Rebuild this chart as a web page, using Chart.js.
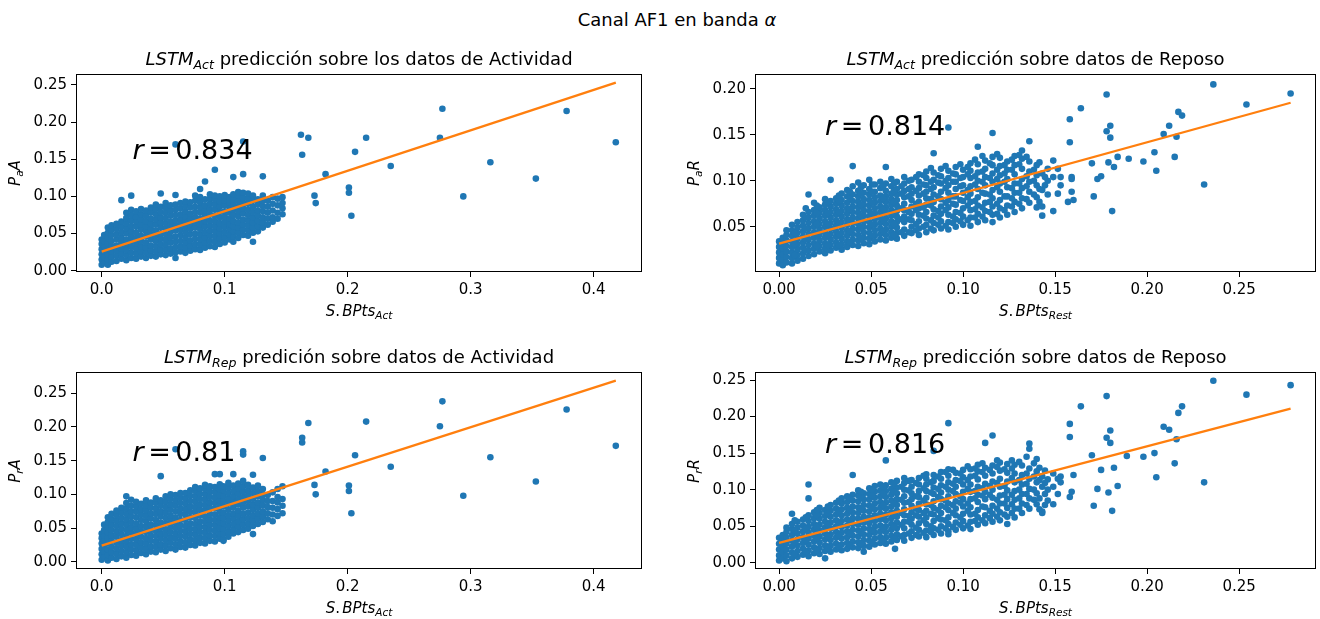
<!DOCTYPE html>
<html lang="es">
<head>
<meta charset="utf-8">
<title>Canal AF1 en banda α</title>
<script src="https://cdn.jsdelivr.net/npm/chart.js@4/dist/chart.umd.min.js"></script>
<style>
  html, body { margin: 0; padding: 0; background: #fff; }
  #fig { position: relative; width: 1320px; height: 619px; overflow: hidden;
         font-family: "DejaVu Sans", sans-serif; color: #000; }
  #fig canvas { position: absolute; }
  .txt { position: absolute; white-space: nowrap; line-height: 1; }
  .txt sub { font-size: 70%; vertical-align: -0.32em; line-height: 0; }
  .title { font-size: 18px; }
  .xlabel, .ylabel { font-size: 15px; }
  .rtext { font-size: 27px; }
  .eq { margin: 0 0.17em; }
  .dot { margin-right: 0.15em; }
</style>
</head>
<body>
<div id="fig">
  <div class="txt title" id="suptitle">Canal AF1 en banda <i>α</i></div>
  <canvas id="c0" width="660" height="330" style="left:0;top:0"></canvas>
  <canvas id="c1" width="660" height="330" style="left:660px;top:0"></canvas>
  <canvas id="c2" width="660" height="289" style="left:0;top:330px"></canvas>
  <canvas id="c3" width="660" height="289" style="left:660px;top:330px"></canvas>
</div>
<script>
/**
 * ==============================
 * DATA
 * ==============================
 */
// Each column: [x, y1, y2, ...] -- points sharing (roughly) the same x
const colsActOnAct = [
  [0.000, 0.008, 0.015, 0.022, 0.029, 0.036, 0.042],
  [0.002, 0.011, 0.018, 0.026, 0.033, 0.040, 0.048],
  [0.005, 0.008, 0.015, 0.022, 0.029, 0.037, 0.044, 0.051, 0.058],
  [0.008, 0.012, 0.019, 0.026, 0.033, 0.040, 0.048, 0.055, 0.061],
  [0.012, 0.013, 0.020, 0.027, 0.034, 0.042, 0.049, 0.056, 0.063],
  [0.016, 0.016, 0.023, 0.030, 0.038, 0.045, 0.052, 0.059, 0.066, 0.095],
  [0.020, 0.014, 0.021, 0.028, 0.035, 0.042, 0.050, 0.057, 0.064, 0.071, 0.078],
  [0.024, 0.017, 0.024, 0.032, 0.039, 0.046, 0.053, 0.060, 0.068, 0.075, 0.082, 0.101],
  [0.028, 0.016, 0.023, 0.030, 0.037, 0.044, 0.051, 0.059, 0.066, 0.073, 0.080],
  [0.032, 0.019, 0.026, 0.033, 0.040, 0.047, 0.055, 0.062, 0.069, 0.076, 0.083],
  [0.036, 0.017, 0.024, 0.031, 0.038, 0.046, 0.053, 0.060, 0.067, 0.074, 0.081],
  [0.040, 0.020, 0.027, 0.034, 0.042, 0.049, 0.056, 0.063, 0.070, 0.078, 0.085],
  [0.044, 0.019, 0.026, 0.033, 0.040, 0.047, 0.054, 0.062, 0.069, 0.076, 0.083, 0.089],
  [0.048, 0.022, 0.029, 0.036, 0.043, 0.050, 0.058, 0.065, 0.072, 0.079, 0.086, 0.104],
  [0.052, 0.021, 0.028, 0.035, 0.042, 0.049, 0.057, 0.064, 0.071, 0.078, 0.085, 0.091],
  [0.056, 0.023, 0.030, 0.038, 0.045, 0.052, 0.059, 0.066, 0.074, 0.081, 0.088],
  [0.060, 0.017, 0.025, 0.032, 0.039, 0.046, 0.054, 0.061, 0.068, 0.075, 0.082, 0.089, 0.102, 0.170],
  [0.064, 0.026, 0.033, 0.040, 0.048, 0.055, 0.062, 0.069, 0.076, 0.084, 0.091],
  [0.068, 0.024, 0.031, 0.038, 0.045, 0.052, 0.059, 0.066, 0.073, 0.080, 0.087, 0.093],
  [0.072, 0.027, 0.034, 0.041, 0.049, 0.056, 0.063, 0.070, 0.077, 0.085, 0.092],
  [0.076, 0.029, 0.036, 0.043, 0.050, 0.058, 0.065, 0.072, 0.079, 0.086, 0.094, 0.101],
  [0.080, 0.028, 0.035, 0.042, 0.049, 0.056, 0.063, 0.070, 0.078, 0.085, 0.092, 0.099, 0.110],
  [0.084, 0.031, 0.038, 0.045, 0.052, 0.060, 0.067, 0.074, 0.081, 0.088, 0.096, 0.120],
  [0.088, 0.033, 0.040, 0.047, 0.054, 0.061, 0.068, 0.076, 0.083, 0.090, 0.097, 0.103],
  [0.092, 0.032, 0.039, 0.046, 0.053, 0.060, 0.067, 0.074, 0.082, 0.089, 0.096, 0.101, 0.136],
  [0.096, 0.036, 0.043, 0.050, 0.057, 0.064, 0.072, 0.079, 0.086, 0.093, 0.100],
  [0.100, 0.038, 0.045, 0.052, 0.059, 0.066, 0.073, 0.080, 0.088, 0.095, 0.102],
  [0.104, 0.042, 0.049, 0.056, 0.063, 0.070, 0.078, 0.085, 0.092, 0.099],
  [0.107, 0.039, 0.046, 0.053, 0.060, 0.067, 0.075, 0.082, 0.089, 0.096, 0.103, 0.126],
  [0.111, 0.044, 0.051, 0.058, 0.065, 0.073, 0.080, 0.087, 0.094, 0.101, 0.106],
  [0.115, 0.048, 0.055, 0.062, 0.069, 0.077, 0.084, 0.091, 0.098, 0.105, 0.130, 0.174],
  [0.119, 0.047, 0.054, 0.061, 0.068, 0.075, 0.082, 0.090, 0.097, 0.104],
  [0.123, 0.039, 0.051, 0.058, 0.065, 0.072, 0.079, 0.086, 0.094, 0.101],
  [0.127, 0.053, 0.060, 0.067, 0.074, 0.081, 0.089, 0.096],
  [0.131, 0.058, 0.065, 0.072, 0.080, 0.087, 0.094, 0.101, 0.127],
  [0.135, 0.062, 0.070, 0.078, 0.086, 0.094],
  [0.139, 0.066, 0.072, 0.081, 0.090, 0.099],
  [0.143, 0.070, 0.078, 0.088, 0.097],
  [0.147, 0.076, 0.084, 0.091, 0.099],
  [0.162, 0.183], [0.163, 0.156], [0.168, 0.179], [0.173, 0.101], [0.174, 0.091],
  [0.182, 0.130], [0.201, 0.112, 0.105], [0.203, 0.074], [0.206, 0.160], [0.215, 0.179],
  [0.235, 0.141], [0.275, 0.179], [0.277, 0.218], [0.294, 0.100], [0.316, 0.146],
  [0.353, 0.124], [0.378, 0.215], [0.418, 0.173],
];

const colsActOnRest = [
  [0.000, 0.010, 0.016, 0.022, 0.028, 0.034],
  [0.002, 0.008, 0.014, 0.020, 0.026, 0.032, 0.038],
  [0.004, 0.011, 0.017, 0.023, 0.029, 0.035, 0.041, 0.046],
  [0.007, 0.010, 0.016, 0.022, 0.028, 0.034, 0.040, 0.046, 0.052],
  [0.010, 0.013, 0.019, 0.025, 0.031, 0.037, 0.043, 0.049, 0.055],
  [0.013, 0.015, 0.021, 0.027, 0.033, 0.039, 0.045, 0.051, 0.057, 0.063],
  [0.016, 0.018, 0.024, 0.030, 0.036, 0.042, 0.048, 0.054, 0.060, 0.066, 0.085],
  [0.019, 0.020, 0.026, 0.032, 0.038, 0.044, 0.050, 0.056, 0.062, 0.068, 0.076],
  [0.022, 0.023, 0.029, 0.035, 0.041, 0.047, 0.053, 0.059, 0.065, 0.071],
  [0.025, 0.021, 0.026, 0.032, 0.038, 0.044, 0.050, 0.056, 0.062, 0.068, 0.074, 0.080],
  [0.028, 0.024, 0.030, 0.036, 0.042, 0.048, 0.054, 0.060, 0.066, 0.072, 0.078, 0.101],
  [0.031, 0.027, 0.033, 0.039, 0.045, 0.051, 0.057, 0.063, 0.069, 0.075, 0.081],
  [0.034, 0.025, 0.031, 0.037, 0.043, 0.049, 0.055, 0.061, 0.067, 0.073, 0.079, 0.086],
  [0.037, 0.028, 0.034, 0.040, 0.046, 0.052, 0.058, 0.064, 0.070, 0.076, 0.083, 0.090],
  [0.040, 0.030, 0.036, 0.042, 0.048, 0.054, 0.060, 0.066, 0.072, 0.078, 0.085, 0.094, 0.116],
  [0.043, 0.029, 0.035, 0.041, 0.047, 0.053, 0.059, 0.065, 0.071, 0.077, 0.083, 0.089, 0.098],
  [0.046, 0.032, 0.038, 0.044, 0.050, 0.056, 0.062, 0.068, 0.074, 0.080, 0.087, 0.095],
  [0.049, 0.031, 0.037, 0.043, 0.049, 0.055, 0.061, 0.067, 0.073, 0.079, 0.085, 0.091, 0.101],
  [0.052, 0.034, 0.040, 0.046, 0.052, 0.058, 0.064, 0.070, 0.076, 0.082, 0.088, 0.096],
  [0.055, 0.036, 0.042, 0.048, 0.054, 0.060, 0.066, 0.072, 0.078, 0.084, 0.092, 0.099],
  [0.058, 0.035, 0.041, 0.047, 0.053, 0.059, 0.065, 0.071, 0.077, 0.083, 0.089, 0.097, 0.115],
  [0.061, 0.038, 0.044, 0.050, 0.056, 0.062, 0.068, 0.074, 0.080, 0.086, 0.094, 0.102],
  [0.064, 0.037, 0.043, 0.049, 0.055, 0.061, 0.067, 0.073, 0.079, 0.085, 0.091, 0.099],
  [0.068, 0.040, 0.047, 0.055, 0.061, 0.068, 0.075, 0.082, 0.089, 0.097, 0.104],
  [0.072, 0.043, 0.050, 0.057, 0.064, 0.072, 0.079, 0.086, 0.093, 0.101],
  [0.076, 0.041, 0.048, 0.056, 0.063, 0.070, 0.077, 0.084, 0.092, 0.099, 0.107],
  [0.080, 0.044, 0.052, 0.059, 0.066, 0.074, 0.081, 0.088, 0.095, 0.103, 0.110],
  [0.084, 0.046, 0.054, 0.062, 0.069, 0.077, 0.085, 0.093, 0.101, 0.109, 0.130],
  [0.088, 0.048, 0.056, 0.064, 0.072, 0.080, 0.088, 0.097, 0.105, 0.113],
  [0.092, 0.047, 0.055, 0.063, 0.071, 0.079, 0.087, 0.095, 0.103, 0.111, 0.158],
  [0.096, 0.050, 0.058, 0.066, 0.074, 0.083, 0.091, 0.099, 0.107, 0.115],
  [0.100, 0.052, 0.061, 0.070, 0.078, 0.087, 0.095, 0.104, 0.112],
  [0.104, 0.051, 0.060, 0.068, 0.077, 0.086, 0.094, 0.103, 0.111, 0.119],
  [0.108, 0.055, 0.064, 0.073, 0.082, 0.091, 0.100, 0.109, 0.118, 0.137],
  [0.112, 0.057, 0.067, 0.076, 0.086, 0.095, 0.104, 0.113, 0.122],
  [0.116, 0.055, 0.063, 0.072, 0.081, 0.090, 0.099, 0.108, 0.117, 0.126, 0.152],
  [0.120, 0.060, 0.070, 0.079, 0.088, 0.097, 0.106, 0.116, 0.125],
  [0.124, 0.063, 0.073, 0.083, 0.093, 0.102, 0.112, 0.121],
  [0.128, 0.066, 0.077, 0.087, 0.097, 0.107, 0.117, 0.127],
  [0.132, 0.070, 0.081, 0.092, 0.102, 0.113, 0.124, 0.133],
  [0.136, 0.076, 0.088, 0.099, 0.110, 0.121, 0.143],
  [0.140, 0.071, 0.082, 0.095, 0.106, 0.117],
  [0.143, 0.062, 0.072, 0.090, 0.108],
  [0.146, 0.085, 0.100, 0.113],
  [0.149, 0.067, 0.104, 0.122],
  [0.153, 0.095, 0.104],
  [0.157, 0.077], [0.158, 0.167, 0.142], [0.159, 0.104, 0.102, 0.088], [0.160, 0.079],
  [0.164, 0.179], [0.170, 0.119], [0.171, 0.083], [0.173, 0.102], [0.175, 0.105],
  [0.178, 0.194, 0.154], [0.179, 0.120], [0.180, 0.160, 0.147], [0.181, 0.067], [0.182, 0.115],
  [0.184, 0.126], [0.190, 0.124], [0.198, 0.121], [0.204, 0.131], [0.205, 0.111],
  [0.209, 0.151], [0.212, 0.160], [0.215, 0.126], [0.216, 0.148], [0.217, 0.175],
  [0.219, 0.171], [0.231, 0.096], [0.236, 0.205], [0.254, 0.183], [0.278, 0.195],
];

// Points sitting between the columns above (irregular cloud texture)
const colsActOnRestMid = [
  [0.0085, 0.019, 0.031, 0.043],
  [0.0145, 0.024, 0.036, 0.048, 0.060, 0.070],
  [0.0205, 0.029, 0.041, 0.053, 0.065, 0.073],
  [0.0265, 0.030, 0.041, 0.053, 0.065, 0.077],
  [0.0325, 0.030, 0.042, 0.054, 0.066, 0.078, 0.084],
  [0.0385, 0.033, 0.045, 0.057, 0.069, 0.081, 0.088],
  [0.0445, 0.038, 0.050, 0.062, 0.074, 0.086, 0.093],
  [0.0505, 0.040, 0.052, 0.064, 0.076, 0.088, 0.096],
  [0.0565, 0.045, 0.057, 0.069, 0.081, 0.094],
  [0.0625, 0.041, 0.053, 0.065, 0.077, 0.089, 0.097],
  [0.0665, 0.044, 0.058, 0.070, 0.086, 0.094],
  [0.0705, 0.044, 0.058, 0.066, 0.083, 0.091, 0.100],
  [0.0745, 0.046, 0.053, 0.068, 0.075, 0.089, 0.104],
  [0.0785, 0.050, 0.062, 0.071, 0.086, 0.096, 0.106],
  [0.0825, 0.048, 0.057, 0.073, 0.080, 0.091, 0.099, 0.114],
  [0.0865, 0.052, 0.060, 0.067, 0.083, 0.098, 0.106],
  [0.0905, 0.051, 0.068, 0.076, 0.092, 0.100, 0.116],
  [0.0945, 0.054, 0.061, 0.075, 0.083, 0.099, 0.108],
  [0.0985, 0.056, 0.065, 0.079, 0.094, 0.103, 0.118],
  [0.1025, 0.057, 0.073, 0.082, 0.090, 0.107, 0.115],
  [0.1065, 0.060, 0.069, 0.078, 0.096, 0.105, 0.123],
  [0.1105, 0.061, 0.071, 0.087, 0.099, 0.110, 0.127],
  [0.1145, 0.066, 0.077, 0.085, 0.103, 0.119],
  [0.1185, 0.064, 0.075, 0.093, 0.102, 0.112, 0.129],
  [0.1225, 0.068, 0.083, 0.099, 0.108, 0.117],
  [0.1265, 0.072, 0.081, 0.092, 0.112, 0.123],
  [0.1305, 0.075, 0.087, 0.097, 0.118, 0.128],
  [0.1345, 0.080, 0.094, 0.105, 0.126],
  [0.1385, 0.085, 0.100, 0.112],
  [0.1415, 0.077, 0.091, 0.120],
  [0.1445, 0.095, 0.104],
  [0.1515, 0.086, 0.113],
];

const colsRepOnAct = [
  [0.000, 0.003, 0.011, 0.019, 0.027, 0.035, 0.042],
  [0.002, 0.007, 0.015, 0.023, 0.031, 0.039, 0.047, 0.055],
  [0.005, 0.002, 0.010, 0.018, 0.027, 0.035, 0.043, 0.051, 0.059, 0.066],
  [0.008, 0.006, 0.014, 0.022, 0.031, 0.039, 0.047, 0.055, 0.063, 0.071],
  [0.012, 0.004, 0.012, 0.020, 0.028, 0.037, 0.045, 0.053, 0.061, 0.069, 0.076],
  [0.016, 0.008, 0.016, 0.024, 0.032, 0.041, 0.049, 0.057, 0.065, 0.073, 0.080],
  [0.020, 0.006, 0.014, 0.022, 0.030, 0.038, 0.047, 0.055, 0.063, 0.071, 0.079, 0.087, 0.097],
  [0.024, 0.010, 0.018, 0.026, 0.034, 0.043, 0.051, 0.059, 0.067, 0.075, 0.083, 0.092],
  [0.028, 0.009, 0.017, 0.025, 0.033, 0.041, 0.049, 0.057, 0.066, 0.074, 0.082, 0.089],
  [0.032, 0.013, 0.021, 0.029, 0.037, 0.045, 0.053, 0.062, 0.070, 0.078, 0.086],
  [0.036, 0.011, 0.019, 0.027, 0.035, 0.044, 0.052, 0.060, 0.068, 0.076, 0.084, 0.091],
  [0.040, 0.015, 0.023, 0.031, 0.039, 0.047, 0.055, 0.064, 0.072, 0.080, 0.088],
  [0.044, 0.014, 0.022, 0.030, 0.038, 0.046, 0.054, 0.062, 0.071, 0.079, 0.087, 0.094],
  [0.048, 0.018, 0.026, 0.034, 0.042, 0.050, 0.058, 0.067, 0.075, 0.083, 0.091, 0.127],
  [0.052, 0.016, 0.024, 0.032, 0.040, 0.048, 0.057, 0.065, 0.073, 0.081, 0.089, 0.097],
  [0.056, 0.020, 0.028, 0.036, 0.044, 0.052, 0.061, 0.069, 0.077, 0.085, 0.093, 0.100],
  [0.060, 0.018, 0.026, 0.034, 0.042, 0.050, 0.058, 0.066, 0.075, 0.083, 0.091, 0.099, 0.167],
  [0.064, 0.022, 0.030, 0.038, 0.046, 0.054, 0.062, 0.071, 0.079, 0.087, 0.095, 0.102],
  [0.068, 0.021, 0.029, 0.037, 0.045, 0.053, 0.062, 0.070, 0.078, 0.086, 0.094, 0.102],
  [0.072, 0.025, 0.033, 0.041, 0.049, 0.057, 0.066, 0.074, 0.082, 0.090, 0.098, 0.106],
  [0.076, 0.024, 0.032, 0.040, 0.048, 0.056, 0.065, 0.073, 0.081, 0.089, 0.097, 0.105, 0.111],
  [0.080, 0.028, 0.036, 0.044, 0.052, 0.060, 0.069, 0.077, 0.085, 0.093, 0.101, 0.109],
  [0.084, 0.027, 0.035, 0.043, 0.051, 0.059, 0.067, 0.076, 0.084, 0.092, 0.100, 0.108, 0.114],
  [0.088, 0.031, 0.039, 0.047, 0.055, 0.063, 0.071, 0.080, 0.088, 0.096, 0.104, 0.112],
  [0.092, 0.030, 0.038, 0.046, 0.054, 0.062, 0.070, 0.079, 0.087, 0.095, 0.103, 0.111, 0.130],
  [0.096, 0.034, 0.042, 0.050, 0.058, 0.066, 0.074, 0.083, 0.091, 0.099, 0.107, 0.115, 0.130],
  [0.099, 0.031, 0.033, 0.041, 0.049, 0.057, 0.065, 0.073, 0.082, 0.090, 0.098, 0.106, 0.112],
  [0.103, 0.037, 0.045, 0.053, 0.061, 0.069, 0.077, 0.086, 0.094, 0.102, 0.110, 0.117],
  [0.107, 0.042, 0.048, 0.056, 0.064, 0.072, 0.081, 0.089, 0.097, 0.105, 0.113, 0.130],
  [0.111, 0.044, 0.052, 0.060, 0.068, 0.076, 0.085, 0.093, 0.101, 0.109, 0.116],
  [0.115, 0.047, 0.055, 0.063, 0.071, 0.080, 0.088, 0.096, 0.104, 0.112, 0.120, 0.159, 0.164],
  [0.119, 0.049, 0.057, 0.065, 0.073, 0.082, 0.090, 0.098, 0.106, 0.114],
  [0.123, 0.041, 0.053, 0.061, 0.069, 0.077, 0.085, 0.093, 0.102, 0.110, 0.129],
  [0.127, 0.056, 0.064, 0.072, 0.080, 0.088, 0.097, 0.105, 0.113],
  [0.131, 0.059, 0.067, 0.075, 0.084, 0.092, 0.100, 0.108, 0.154],
  [0.135, 0.063, 0.072, 0.081, 0.090, 0.099],
  [0.139, 0.060, 0.070, 0.080, 0.090, 0.103],
  [0.143, 0.068, 0.078, 0.088, 0.096, 0.108],
  [0.147, 0.072, 0.083, 0.093, 0.112],
  [0.163, 0.184, 0.177], [0.168, 0.206], [0.173, 0.114], [0.174, 0.100], [0.182, 0.134],
  [0.201, 0.113, 0.105], [0.203, 0.072], [0.206, 0.158], [0.215, 0.208], [0.235, 0.141],
  [0.275, 0.201], [0.277, 0.238], [0.294, 0.098], [0.316, 0.155], [0.353, 0.119],
  [0.378, 0.226], [0.418, 0.172],
];

const colsRepOnRest = [
  [0.000, 0.003, 0.010, 0.018, 0.026, 0.034],
  [0.002, 0.006, 0.014, 0.022, 0.030, 0.038],
  [0.004, 0.002, 0.010, 0.018, 0.026, 0.034, 0.042, 0.048],
  [0.007, 0.006, 0.014, 0.022, 0.030, 0.038, 0.046, 0.053, 0.067],
  [0.010, 0.008, 0.016, 0.024, 0.032, 0.040, 0.048, 0.056],
  [0.013, 0.011, 0.019, 0.027, 0.035, 0.043, 0.051, 0.059],
  [0.016, 0.009, 0.017, 0.025, 0.033, 0.041, 0.049, 0.057, 0.065, 0.088, 0.107],
  [0.019, 0.013, 0.021, 0.029, 0.037, 0.045, 0.053, 0.061, 0.069],
  [0.022, 0.012, 0.020, 0.028, 0.036, 0.044, 0.052, 0.060, 0.068, 0.075],
  [0.025, 0.006, 0.016, 0.024, 0.032, 0.040, 0.048, 0.056, 0.064, 0.072],
  [0.028, 0.015, 0.023, 0.031, 0.039, 0.047, 0.055, 0.063, 0.071, 0.079],
  [0.031, 0.018, 0.026, 0.034, 0.042, 0.050, 0.058, 0.066, 0.074, 0.082],
  [0.034, 0.017, 0.025, 0.033, 0.041, 0.049, 0.057, 0.065, 0.073, 0.081, 0.088],
  [0.037, 0.019, 0.027, 0.035, 0.043, 0.051, 0.059, 0.067, 0.075, 0.083, 0.091],
  [0.040, 0.021, 0.029, 0.037, 0.045, 0.053, 0.061, 0.069, 0.077, 0.085, 0.093, 0.120],
  [0.043, 0.020, 0.028, 0.036, 0.044, 0.052, 0.060, 0.068, 0.076, 0.084, 0.092, 0.099],
  [0.046, 0.015, 0.023, 0.031, 0.039, 0.047, 0.055, 0.063, 0.071, 0.079, 0.087, 0.095],
  [0.049, 0.022, 0.030, 0.038, 0.046, 0.054, 0.062, 0.070, 0.078, 0.086, 0.094, 0.102],
  [0.052, 0.025, 0.033, 0.041, 0.049, 0.057, 0.065, 0.073, 0.081, 0.089, 0.097, 0.105],
  [0.055, 0.027, 0.035, 0.043, 0.051, 0.059, 0.067, 0.075, 0.083, 0.091, 0.099, 0.107],
  [0.058, 0.026, 0.034, 0.042, 0.050, 0.058, 0.066, 0.074, 0.082, 0.090, 0.098, 0.106, 0.140],
  [0.061, 0.029, 0.037, 0.045, 0.053, 0.061, 0.069, 0.077, 0.085, 0.093, 0.101, 0.110],
  [0.063, 0.019],
  [0.064, 0.031, 0.039, 0.047, 0.055, 0.063, 0.071, 0.079, 0.087, 0.095, 0.103, 0.112],
  [0.068, 0.030, 0.038, 0.047, 0.056, 0.065, 0.073, 0.082, 0.091, 0.100, 0.109, 0.116],
  [0.072, 0.034, 0.043, 0.052, 0.060, 0.069, 0.078, 0.087, 0.095, 0.104, 0.113],
  [0.076, 0.036, 0.045, 0.054, 0.063, 0.072, 0.081, 0.090, 0.098, 0.107, 0.116],
  [0.080, 0.035, 0.044, 0.053, 0.062, 0.071, 0.080, 0.089, 0.098, 0.107, 0.115, 0.121],
  [0.084, 0.038, 0.047, 0.057, 0.066, 0.075, 0.084, 0.094, 0.103, 0.112, 0.120, 0.153],
  [0.088, 0.040, 0.050, 0.059, 0.068, 0.078, 0.087, 0.096, 0.106, 0.115, 0.124],
  [0.092, 0.039, 0.043, 0.053, 0.062, 0.072, 0.081, 0.091, 0.100, 0.110, 0.119, 0.128, 0.191],
  [0.096, 0.045, 0.055, 0.065, 0.074, 0.084, 0.094, 0.104, 0.113, 0.123],
  [0.100, 0.047, 0.057, 0.067, 0.077, 0.087, 0.097, 0.107, 0.117, 0.127],
  [0.104, 0.046, 0.056, 0.066, 0.076, 0.087, 0.097, 0.107, 0.118, 0.128],
  [0.108, 0.052, 0.062, 0.072, 0.083, 0.093, 0.104, 0.114, 0.125, 0.134],
  [0.112, 0.054, 0.065, 0.076, 0.087, 0.097, 0.108, 0.119, 0.130, 0.164],
  [0.116, 0.056, 0.067, 0.078, 0.089, 0.100, 0.111, 0.122, 0.133, 0.174],
  [0.120, 0.058, 0.069, 0.081, 0.092, 0.104, 0.115, 0.126, 0.137],
  [0.124, 0.053, 0.063, 0.075, 0.087, 0.099, 0.111, 0.123, 0.135],
  [0.128, 0.062, 0.074, 0.086, 0.098, 0.110, 0.122, 0.134],
  [0.132, 0.068, 0.081, 0.094, 0.107, 0.120, 0.133],
  [0.136, 0.074, 0.088, 0.101, 0.115, 0.129, 0.156, 0.163],
  [0.140, 0.080, 0.095, 0.110, 0.125, 0.142],
  [0.143, 0.068, 0.070, 0.104, 0.118],
  [0.146, 0.085, 0.100, 0.114],
  [0.149, 0.080, 0.104, 0.122],
  [0.153, 0.110, 0.118],
  [0.158, 0.190, 0.172, 0.090], [0.159, 0.097], [0.160, 0.120], [0.164, 0.214], [0.170, 0.147],
  [0.171, 0.078], [0.173, 0.101], [0.175, 0.127], [0.178, 0.228, 0.171], [0.179, 0.096],
  [0.180, 0.181, 0.164], [0.181, 0.071], [0.182, 0.130], [0.184, 0.105], [0.189, 0.146],
  [0.198, 0.145], [0.204, 0.150], [0.205, 0.117], [0.209, 0.186], [0.212, 0.182],
  [0.215, 0.136], [0.216, 0.169], [0.217, 0.205], [0.219, 0.214], [0.231, 0.110],
  [0.236, 0.249], [0.254, 0.230], [0.278, 0.243],
];

const colsRepOnRestMid = [
  [0.0085, 0.012, 0.028, 0.044, 0.058],
  [0.0145, 0.015, 0.031, 0.047, 0.062],
  [0.0205, 0.017, 0.033, 0.049, 0.065, 0.072],
  [0.0265, 0.020, 0.036, 0.052, 0.068, 0.077],
  [0.0325, 0.022, 0.038, 0.054, 0.070, 0.085],
  [0.0385, 0.024, 0.040, 0.056, 0.072, 0.088],
  [0.0445, 0.026, 0.042, 0.058, 0.074, 0.090, 0.097],
  [0.0505, 0.028, 0.044, 0.060, 0.076, 0.092, 0.100],
  [0.0565, 0.031, 0.047, 0.063, 0.079, 0.095, 0.104],
  [0.0625, 0.033, 0.049, 0.065, 0.081, 0.097, 0.108],
  [0.0665, 0.036, 0.052, 0.068, 0.086, 0.104],
  [0.0705, 0.040, 0.056, 0.064, 0.083, 0.099, 0.112],
  [0.0745, 0.038, 0.048, 0.065, 0.074, 0.091, 0.109],
  [0.0785, 0.041, 0.058, 0.068, 0.085, 0.102, 0.119],
  [0.0825, 0.042, 0.050, 0.067, 0.079, 0.096, 0.110],
  [0.0865, 0.045, 0.061, 0.072, 0.090, 0.101, 0.118],
  [0.0905, 0.047, 0.058, 0.076, 0.085, 0.104, 0.124],
  [0.0945, 0.049, 0.068, 0.079, 0.098, 0.108, 0.127],
  [0.0985, 0.052, 0.062, 0.082, 0.091, 0.112, 0.122],
  [0.1025, 0.051, 0.071, 0.081, 0.101, 0.113, 0.132],
  [0.1065, 0.057, 0.067, 0.088, 0.098, 0.119, 0.129],
  [0.1105, 0.058, 0.077, 0.092, 0.102, 0.124, 0.136],
  [0.1145, 0.061, 0.071, 0.093, 0.105, 0.127],
  [0.1185, 0.063, 0.074, 0.086, 0.109, 0.131, 0.140],
  [0.1225, 0.066, 0.081, 0.093, 0.105, 0.128],
  [0.1265, 0.068, 0.080, 0.093, 0.116, 0.129, 0.140],
  [0.1305, 0.074, 0.088, 0.100, 0.113, 0.138],
  [0.1345, 0.079, 0.094, 0.108, 0.122, 0.145],
  [0.1385, 0.086, 0.100, 0.118, 0.136],
  [0.1415, 0.073, 0.088, 0.113, 0.130],
  [0.1445, 0.079, 0.094, 0.109, 0.126],
  [0.1515, 0.094, 0.115],
];

// Regression lines: [xStart, yStart], [xEnd, yEnd]
const fitActOnAct = [[0.000, 0.0256], [0.418, 0.2531]];
const fitActOnRest = [[0.000, 0.0315], [0.278, 0.1850]];
const fitRepOnAct = [[0.000, 0.0238], [0.418, 0.2687]];
const fitRepOnRest = [[0.000, 0.0273], [0.278, 0.2110]];

// Correlation annotations and where they sit (data coordinates)
const rValues = ["0.834", "0.814", "0.81", "0.816"];
const rAnchor = [0.025, 0.15];

// Ticks and axis limits
const ticksAct = [0.0, 0.1, 0.2, 0.3, 0.4];
const ticksRest = [0.0, 0.05, 0.1, 0.15, 0.2, 0.25];
const ticksY25 = [0.0, 0.05, 0.1, 0.15, 0.2, 0.25];
const ticksY20 = [0.05, 0.1, 0.15, 0.2];
const xRangeAct = [-0.0209, 0.4393];
const xRangeRest = [-0.0131, 0.2918];
const yRangeActOnAct = [-0.00175, 0.2648];
const yRangeActOnRest = [0.00065, 0.2163];
const yRangeRepOnAct = [-0.0108, 0.2816];
const yRangeRepOnRest = [-0.0086, 0.2610];

/**
 * ==============================
 * HELPERS
 * ==============================
 */
const BLUE = "#1f77b4";
const ORANGE = "#ff7f0e";
const TICK_FONT = { family: "DejaVu Sans", size: 15 };

const toPoints = (cols) => cols.flatMap(([x, ...ys]) => ys.map((y) => ({ x, y })));
const toXY = (pairs) => pairs.map(([x, y]) => ({ x, y }));

// Full box round the plot area, like matplotlib spines
const framePlugin = {
    id: "frame",
    afterDatasetsDraw(chart) {
        const { ctx, chartArea: a } = chart;
        ctx.save();
        ctx.strokeStyle = "#000";
        ctx.lineWidth = 1;
        ctx.strokeRect(Math.round(a.left) + 0.5, Math.round(a.top) + 0.5,
            Math.round(a.right - a.left) - 1, Math.round(a.bottom - a.top) - 1);
        ctx.restore();
    },
};

function axisOpts(range, ticks, decimals, fitFn) {
    return {
        type: "linear",
        min: range[0],
        max: range[1],
        afterBuildTicks: (s) => { s.ticks = ticks.map((v) => ({ value: v })); },
        afterFit: fitFn,
        grid: { display: true, drawOnChartArea: false, drawTicks: true, tickLength: 5, color: "#000", lineWidth: 1 },
        border: { display: false },
        ticks: {
            font: TICK_FONT, color: "#000", padding: 4,
            autoSkip: false, maxRotation: 0,
            callback: (v) => Number(v).toFixed(decimals),
        },
    };
}

function makeScatter(canvas, p) {
    return new Chart(canvas, {
        type: "scatter",
        data: {
            datasets: [
                { data: toXY(p.fit), showLine: true, borderColor: ORANGE, borderWidth: 2.3, pointRadius: 0, order: 0 },
                { data: toPoints(p.cols), backgroundColor: BLUE, borderWidth: 0, pointRadius: 3.3, order: 1 },
            ],
        },
        options: {
            responsive: false,
            animation: false,
            devicePixelRatio: 1,
            events: [],
            layout: { padding: p.pad },
            plugins: { legend: { display: false }, tooltip: { enabled: false } },
            scales: {
                x: axisOpts(p.xRange, p.xTicks, p.xDec, (s) => { s.height = 30; }),
                y: axisOpts(p.yRange, p.yTicks, 2, (s) => { s.width = 60; }),
            },
        },
        plugins: [framePlugin],
    });
}

function addText(cls, html, css) {
    const el = document.createElement("div");
    el.className = "txt " + cls;
    el.innerHTML = html;
    Object.assign(el.style, css);
    document.getElementById("fig").appendChild(el);
    return el;
}

// baseline -> top for a line-height:1 DejaVu box
const topFor = (baseline, size) => (baseline - 0.846 * size) + "px";

/**
 * ==============================
 * PANELS
 * ==============================
 */
const panels = [
    {
        canvas: "c0", ox: 0, oy: 0, cols: colsActOnAct, fit: fitActOnAct, r: rValues[0],
        xRange: xRangeAct, yRange: yRangeActOnAct, xTicks: ticksAct, yTicks: ticksY25, xDec: 1,
        pad: { left: 16, top: 74, right: 18, bottom: 28 },
        title: "<i>LSTM<sub>Act</sub></i> predicción sobre los datos de Actividad",
        xlabel: "<i>S</i><span class=\"dot\">.</span><i>BPts<sub>Act</sub></i>", ylabel: "<i>P<sub>a</sub>A</i>",
    },
    {
        canvas: "c1", ox: 660, oy: 0, cols: colsActOnRest.concat(colsActOnRestMid), fit: fitActOnRest, r: rValues[1],
        xRange: xRangeRest, yRange: yRangeActOnRest, xTicks: ticksRest, yTicks: ticksY20, xDec: 2,
        pad: { left: 35, top: 74, right: 1, bottom: 28 },
        title: "<i>LSTM<sub>Act</sub></i> predicción sobre datos de Reposo",
        xlabel: "<i>S</i><span class=\"dot\">.</span><i>BPts<sub>Rest</sub></i>", ylabel: "<i>P<sub>a</sub>R</i>",
    },
    {
        canvas: "c2", ox: 0, oy: 330, cols: colsRepOnAct, fit: fitRepOnAct, r: rValues[2],
        xRange: xRangeAct, yRange: yRangeRepOnAct, xTicks: ticksAct, yTicks: ticksY25, xDec: 1,
        pad: { left: 16, top: 42, right: 18, bottom: 20 },
        title: "<i>LSTM<sub>Rep</sub></i> predición sobre datos de Actividad",
        xlabel: "<i>S</i><span class=\"dot\">.</span><i>BPts<sub>Act</sub></i>", ylabel: "<i>P<sub>r</sub>A</i>",
    },
    {
        canvas: "c3", ox: 660, oy: 330, cols: colsRepOnRest.concat(colsRepOnRestMid), fit: fitRepOnRest, r: rValues[3],
        xRange: xRangeRest, yRange: yRangeRepOnRest, xTicks: ticksRest, yTicks: ticksY25, xDec: 2,
        pad: { left: 35, top: 42, right: 1, bottom: 20 },
        title: "<i>LSTM<sub>Rep</sub></i> predicción sobre datos de Reposo",
        xlabel: "<i>S</i><span class=\"dot\">.</span><i>BPts<sub>Rest</sub></i>", ylabel: "<i>P<sub>r</sub>R</i>",
    },
];

(function () {
    const sup = document.getElementById("suptitle");
    Object.assign(sup.style, { left: "677px", top: topFor(26, 18), transform: "translateX(-50%)" });

    panels.forEach((p) => {
        const chart = makeScatter(document.getElementById(p.canvas), p);
        const a = chart.chartArea;
        const cx = p.ox + (a.left + a.right) / 2;

        addText("title", p.title, { left: cx + "px", top: topFor(p.oy + a.top - 8.5, 18), transform: "translateX(-50%)" });
        addText("xlabel", p.xlabel, { left: cx + "px", top: topFor(p.oy + a.bottom + 45, 15), transform: "translateX(-50%)" });
        addText("ylabel", p.ylabel, {
            left: (p.ox + a.left - 61.5) + "px",
            top: (p.oy + (a.top + a.bottom) / 2) + "px",
            transform: "translate(-50%, -50%) rotate(-90deg)",
        });

        const rx = p.ox + chart.scales.x.getPixelForValue(rAnchor[0]);
        const ry = p.oy + chart.scales.y.getPixelForValue(rAnchor[1]);
        addText("rtext", `<i>r</i><span class="eq">=</span>${p.r}`, { left: rx + "px", top: topFor(ry, 27) });
    });
})();
</script>
</body>
</html>
